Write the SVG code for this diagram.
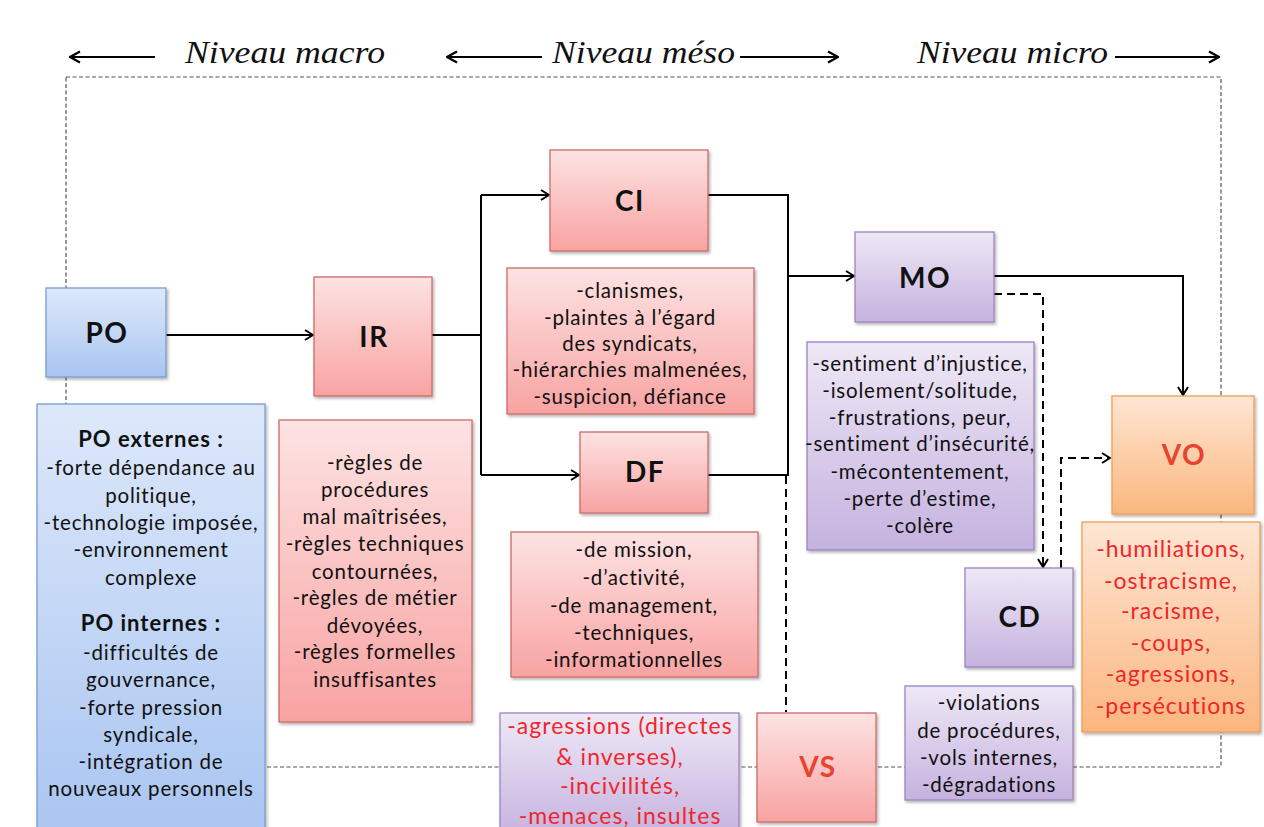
<svg xmlns="http://www.w3.org/2000/svg" width="1264" height="827" viewBox="0 0 1264 827">
  <defs>
    <linearGradient id="gBlue" x1="0" y1="0" x2="0" y2="1">
      <stop offset="0" stop-color="#dde8fa"/>
      <stop offset="1" stop-color="#a9c5f1"/>
    </linearGradient>
    <linearGradient id="gPink" x1="0" y1="0" x2="0" y2="1">
      <stop offset="0" stop-color="#fde3e3"/>
      <stop offset="1" stop-color="#f8a3a2"/>
    </linearGradient>
    <linearGradient id="gPurple" x1="0" y1="0" x2="0" y2="1">
      <stop offset="0" stop-color="#eee8f6"/>
      <stop offset="1" stop-color="#c5b2df"/>
    </linearGradient>
    <linearGradient id="gOrange" x1="0" y1="0" x2="0" y2="1">
      <stop offset="0" stop-color="#fee6d4"/>
      <stop offset="1" stop-color="#fbb67f"/>
    </linearGradient>
    <filter id="shadow" x="-10%" y="-10%" width="125%" height="125%">
      <feDropShadow dx="1.5" dy="2" stdDeviation="1.5" flood-color="#000" flood-opacity="0.3"/>
    </filter>
    <marker id="chev" viewBox="0 0 12 12" refX="11" refY="6" markerWidth="12" markerHeight="12" markerUnits="userSpaceOnUse" orient="auto">
      <path d="M3,1 L11,6 L3,11" fill="none" stroke="#000" stroke-width="2"/>
    </marker>
    <marker id="chevS" viewBox="0 0 14 14" refX="13" refY="7" markerWidth="14" markerHeight="14" markerUnits="userSpaceOnUse" orient="auto">
      <path d="M3,1.5 L13,7 L3,12.5" fill="none" stroke="#000" stroke-width="2.2"/>
    </marker>
  </defs>
  <style>
    .frame { fill: none; stroke: #555; stroke-width: 1.2; stroke-dasharray: 4 2.5; }
    .lvl { font-family: "Liberation Serif", serif; font-style: italic; font-size: 32px; fill: #111; }
    .blue { fill: url(#gBlue); stroke: #7b9bd0; stroke-width: 1.3; filter: url(#shadow); }
    .pink { fill: url(#gPink); stroke: #cc6a68; stroke-width: 1.3; filter: url(#shadow); }
    .purple { fill: url(#gPurple); stroke: #9c84c2; stroke-width: 1.3; filter: url(#shadow); }
    .orange { fill: url(#gOrange); stroke: #f39c54; stroke-width: 1.3; filter: url(#shadow); }
    .lbl { font-family: "Lato", "Liberation Sans", sans-serif; font-weight: bold; font-size: 28px; letter-spacing: 1.5px; fill: #111; text-anchor: middle; }
    .lblr { fill: #e8432e; }
    .t { font-family: "Lato", "Liberation Sans", sans-serif; font-size: 20.5px; letter-spacing: 0.8px; fill: #111; text-anchor: middle; }
    .tb { font-weight: bold; font-size: 22px; letter-spacing: 1px; }
    .tr { fill: #f0262a; font-size: 23px; letter-spacing: 1px; }
    .wire { fill: none; stroke: #000; stroke-width: 2; }
    .dash { fill: none; stroke: #000; stroke-width: 2; stroke-dasharray: 8 5; }
    .harrow { stroke: #000; stroke-width: 2.2; fill: none; }
  </style>

  <rect width="1264" height="827" fill="#fff"/>

  <!-- level headings -->
  <g id="levels">
    <line class="harrow" x1="155" y1="57" x2="70" y2="57" marker-end="url(#chevS)"/>
    <text class="lvl" x="185" y="63" textLength="200" lengthAdjust="spacingAndGlyphs">Niveau macro</text>
    <line class="harrow" x1="542" y1="57" x2="447" y2="57" marker-end="url(#chevS)"/>
    <text class="lvl" x="552" y="63" textLength="183" lengthAdjust="spacingAndGlyphs">Niveau méso</text>
    <line class="harrow" x1="740" y1="57" x2="838" y2="57" marker-end="url(#chevS)"/>
    <text class="lvl" x="917" y="63" textLength="191" lengthAdjust="spacingAndGlyphs">Niveau micro</text>
    <line class="harrow" x1="1115" y1="57" x2="1219" y2="57" marker-end="url(#chevS)"/>
  </g>

  <!-- dashed boundary -->
  <rect class="frame" x="66" y="77" width="1155" height="690"/>

  <!-- connectors -->
  <g id="connectors">
    <line class="wire" x1="166" y1="335" x2="313" y2="335" marker-end="url(#chev)"/>
    <path class="wire" d="M432,335 H481"/>
    <path class="wire" d="M481,195 V475"/>
    <line class="wire" x1="481" y1="195" x2="549" y2="195" marker-end="url(#chev)"/>
    <line class="wire" x1="481" y1="475" x2="579" y2="475" marker-end="url(#chev)"/>
    <path class="wire" d="M708,195 H788 V475 H708"/>
    <line class="wire" x1="788" y1="276" x2="854" y2="276" marker-end="url(#chev)"/>
    <path class="dash" d="M786,476 V712"/>
    <path class="wire" d="M994,276 H1183 V395" marker-end="url(#chev)"/>
    <path class="dash" d="M994,294 H1043 V567" marker-end="url(#chev)"/>
    <path class="dash" d="M1061,568 V458 H1110" marker-end="url(#chev)"/>
  </g>

  <!-- PO -->
  <g id="po">
    <rect class="blue" x="46" y="288" width="120" height="89"/>
    <text class="lbl" x="107" y="343">PO</text>
  </g>
  <g id="po-details">
    <rect class="blue" x="37" y="404" width="228" height="430"/>
    <text class="t tb" x="151" y="447">PO externes :</text>
    <text class="t" x="151" y="475">-forte dépendance au</text>
    <text class="t" x="151" y="503">politique,</text>
    <text class="t" x="151" y="530">-technologie imposée,</text>
    <text class="t" x="151" y="557">-environnement</text>
    <text class="t" x="151" y="585">complexe</text>
    <text class="t tb" x="151" y="631">PO internes :</text>
    <text class="t" x="151" y="660">-difficultés de</text>
    <text class="t" x="151" y="687">gouvernance,</text>
    <text class="t" x="151" y="715">-forte pression</text>
    <text class="t" x="151" y="742">syndicale,</text>
    <text class="t" x="151" y="769">-intégration de</text>
    <text class="t" x="151" y="796">nouveaux personnels</text>
  </g>

  <!-- IR -->
  <g id="ir">
    <rect class="pink" x="314" y="277" width="118" height="119"/>
    <text class="lbl" x="374" y="347">IR</text>
  </g>
  <g id="ir-details">
    <rect class="pink" x="279" y="420" width="193" height="302"/>
    <text class="t" x="375" y="470">-règles de</text>
    <text class="t" x="375" y="497">procédures</text>
    <text class="t" x="375" y="524">mal maîtrisées,</text>
    <text class="t" x="375" y="551">-règles techniques</text>
    <text class="t" x="375" y="579">contournées,</text>
    <text class="t" x="375" y="605">-règles de métier</text>
    <text class="t" x="375" y="633">dévoyées,</text>
    <text class="t" x="375" y="659">-règles formelles</text>
    <text class="t" x="375" y="687">insuffisantes</text>
  </g>

  <!-- CI -->
  <g id="ci">
    <rect class="pink" x="550" y="150" width="158" height="101"/>
    <text class="lbl" x="630" y="211">CI</text>
  </g>
  <g id="ci-details">
    <rect class="pink" x="507" y="268" width="247" height="146"/>
    <text class="t" x="630" y="298">-clanismes,</text>
    <text class="t" x="630" y="325">-plaintes à l’égard</text>
    <text class="t" x="630" y="351">des syndicats,</text>
    <text class="t" x="630" y="377">-hiérarchies malmenées,</text>
    <text class="t" x="630" y="404">-suspicion, défiance</text>
  </g>

  <!-- DF -->
  <g id="df">
    <rect class="pink" x="580" y="432" width="128" height="81"/>
    <text class="lbl" x="645" y="482">DF</text>
  </g>
  <g id="df-details">
    <rect class="pink" x="511" y="532" width="247" height="145"/>
    <text class="t" x="634" y="557">-de mission,</text>
    <text class="t" x="634" y="585">-d’activité,</text>
    <text class="t" x="634" y="613">-de management,</text>
    <text class="t" x="634" y="640">-techniques,</text>
    <text class="t" x="634" y="667">-informationnelles</text>
  </g>

  <!-- MO -->
  <g id="mo">
    <rect class="purple" x="855" y="232" width="139" height="90"/>
    <text class="lbl" x="925" y="288">MO</text>
  </g>
  <g id="mo-details">
    <rect class="purple" x="807" y="342" width="227" height="208"/>
    <text class="t" x="920" y="371">-sentiment d’injustice,</text>
    <text class="t" x="920" y="398">-isolement/solitude,</text>
    <text class="t" x="920" y="425">-frustrations, peur,</text>
    <text class="t" x="920" y="451">-sentiment d’insécurité,</text>
    <text class="t" x="920" y="479">-mécontentement,</text>
    <text class="t" x="920" y="506">-perte d’estime,</text>
    <text class="t" x="920" y="533">-colère</text>
  </g>

  <!-- CD -->
  <g id="cd">
    <rect class="purple" x="965" y="568" width="108" height="99"/>
    <text class="lbl" x="1020" y="627">CD</text>
  </g>
  <g id="cd-details">
    <rect class="purple" x="905" y="686" width="168" height="114"/>
    <text class="t" x="989" y="710">-violations</text>
    <text class="t" x="989" y="738">de procédures,</text>
    <text class="t" x="989" y="765">-vols internes,</text>
    <text class="t" x="989" y="792">-dégradations</text>
  </g>

  <!-- VO -->
  <g id="vo">
    <rect class="orange" x="1112" y="396" width="142" height="118"/>
    <text class="lbl lblr" x="1184" y="465">VO</text>
  </g>
  <g id="vo-details">
    <rect class="orange" x="1082" y="522" width="178" height="210"/>
    <text class="t tr" x="1171" y="557">-humiliations,</text>
    <text class="t tr" x="1171" y="589">-ostracisme,</text>
    <text class="t tr" x="1171" y="619">-racisme,</text>
    <text class="t tr" x="1171" y="651">-coups,</text>
    <text class="t tr" x="1171" y="682">-agressions,</text>
    <text class="t tr" x="1171" y="714">-persécutions</text>
  </g>

  <!-- VS -->
  <g id="vs">
    <rect class="pink" x="757" y="713" width="119" height="109"/>
    <text class="lbl lblr" x="818" y="777">VS</text>
  </g>
  <g id="vs-details">
    <rect class="purple" x="500" y="713" width="239" height="125"/>
    <text class="t tr" x="620" y="734">-agressions  (directes</text>
    <text class="t tr" x="620" y="765">&amp; inverses),</text>
    <text class="t tr" x="620" y="794">-incivilités,</text>
    <text class="t tr" x="620" y="824">-menaces,  insultes</text>
  </g>
</svg>
